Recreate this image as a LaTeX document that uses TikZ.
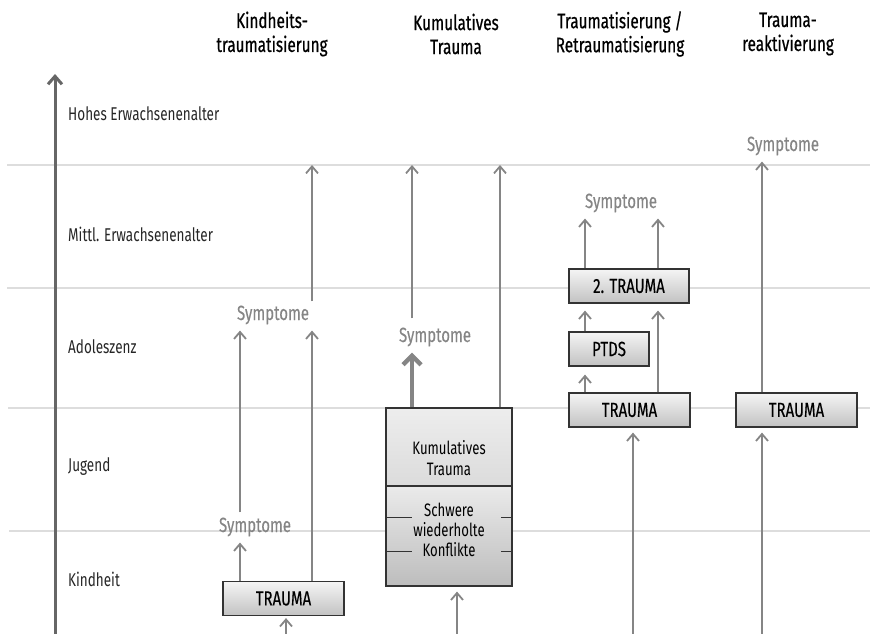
\documentclass[tikz,border=0pt]{standalone}
\usepackage{fontspec}
\setmainfont{Fira Sans}[FakeStretch=0.73]
\newfontfamily\headfont{Fira Sans}[FakeStretch=0.73, FakeBold=0.6]
\newfontfamily\boxfont{Fira Sans}[FakeStretch=0.73, FakeBold=0.35]
\usetikzlibrary{arrows.meta}
\definecolor{gridgray}{HTML}{DDDDDD}
\definecolor{arrgray}{HTML}{858585}
\definecolor{axisgray}{HTML}{666666}

\begin{document}
\begin{tikzpicture}[x=1pt, y=-1pt]
        \tikzstyle{every node}=[font=\fontsize{18.5}{23}\selectfont, text=black!85]
        \tikzstyle{head}=[align=center, text=black, font=\headfont\fontsize{21}{24}\selectfont]
        \tikzstyle{age}=[anchor=west, inner sep=2pt]
        \tikzstyle{box}=[draw=black!80, line width=1.2pt, top color=black!4, bottom color=black!24, minimum height=34pt, inner sep=0pt, text=black, font=\boxfont\fontsize{20.5}{24}\selectfont]
        \tikzstyle{sym}=[text=arrgray, inner xsep=2pt, inner ysep=1pt, font=\boxfont\fontsize{20.5}{24}\selectfont]
        \tikzstyle{grid}=[draw=gridgray, line width=2pt]
        \tikzstyle{arr}=[draw=arrgray, line width=1.8pt, -{Straight Barb[length=7pt, width=12pt]}]
        \tikzstyle{gap}=[shorten >=5pt]

        \useasboundingbox (0,0) rectangle (870,634);

        % Altersstufen
        \coordinate (g1) at (7,165);
        \coordinate (g2) at (7,288);
        \coordinate (g3) at (8,408);
        \coordinate (g4) at (9,531);
        \foreach \g in {g1,g2,g3,g4}
            \draw[grid] (\g) -- (\g -| 870,0);

        \coordinate (a0) at (55,634);
        \coordinate (a1) at (55,74);
        \draw[draw=axisgray, line width=3pt, -{Straight Barb[length=8pt, width=14pt]}] (a0) -- (a1);

        \node[age] (hea) at (66,114) {Hohes Erwachsenenalter};
        \node[age] (mea) at (66,234) {Mittl. Erwachsenenalter};
        \node[age] (ado) at (66,347) {Adoleszenz};
        \node[age] (jug) at (66,467) {Jugend};
        \node[age] (kin) at (66,579) {Kindheit};

        % Spaltenkoepfe
        \node[head] (h1) at (272,34) {Kindheits-\\traumatisierung};
        \node[head] (h2) at (456,34) {Kumulatives\\Trauma};
        \node[head] (h3) at (620,34) {Traumatisierung /\\Retraumatisierung};
        \node[head] (h4) at (788,34) {Trauma-\\reaktivierung};

        % Kaesten
        \node[box, minimum width=121pt] (t1)   at (283.5,598.5) {TRAUMA};
        \node[box, minimum width=126pt, minimum height=78pt, top color=black!7, bottom color=black!14]  (kum) at (449,447) {};
        \node[box, minimum width=126pt, minimum height=100pt, top color=black!8, bottom color=black!26] (kon) at (449,536) {};
        \node[align=center, font=\fontsize{18}{21}\selectfont, text=black] (kumtxt) at (449,458) {Kumulatives\\Trauma};
        \node[align=center, font=\fontsize{18}{20}\selectfont, text=black] (kontxt) at (449,530) {Schwere\\wiederholte\\Konflikte};
        \node[box, minimum width=121pt] (t3)   at (629.5,410) {TRAUMA};
        \node[box, minimum width=80pt]  (ptds) at (609,349) {PTDS};
        \node[box, minimum width=120pt] (t3b)  at (629,286) {2. TRAUMA};
        \node[box, minimum width=121pt] (t4)   at (796.5,410) {TRAUMA};

        \foreach \d in {32,66} {
            \draw[draw=black!80, line width=1.2pt] ([yshift=-\d pt]kon.north west) -- ++(27,0);
            \draw[draw=black!80, line width=1.2pt] ([yshift=-\d pt]kon.north east) -- ++(-12,0);
        }

        % Symptome
        \node[sym] (s1a) at (255,527) {Symptome};
        \node[sym] (s1b) at (273,315) {Symptome};
        \node[sym] (s2)  at (435,337) {Symptome};
        \node[sym] (s3)  at (621,203) {Symptome};
        \node[sym] (s4)  at (783,146) {Symptome};

        % Pfeile
        \coordinate (b1) at (286,634);
        \coordinate (b2) at (457,634);
        \coordinate (b3) at (633,634);
        \coordinate (b4) at (762,634);
        \coordinate (c1a) at (240,0);
        \coordinate (c1b) at (312,0);
        \coordinate (c2a) at (412,0);
        \coordinate (c2b) at (500,0);
        \coordinate (c3a) at (585,0);
        \coordinate (c3b) at (658,0);

        \draw[arr, shorten >=2pt] (b1) -- (t1.south -| b1);
        \draw[arr, gap] (t1.north -| c1a) -- (s1a.south -| c1a);
        \draw[arr, gap, shorten <=4pt] (s1a.north -| c1a) -- (s1b.south -| c1a);
        \draw[arr, gap] (t1.north -| c1b) -- (s1b.south -| c1b);
        \draw[arr, shorten <=3pt] (s1b.north -| c1b) -- (g1 -| c1b);

        \draw[arr, gap] (b2) -- (kon.south -| b2);
        \draw[arr, gap, line width=4.5pt, -{Straight Barb[length=9pt, width=18pt]}] (kum.north -| c2a) -- (s2.south -| c2a);
        \draw[arr, shorten <=8pt] (s2.north -| c2a) -- (g1 -| c2a);
        \draw[arr] (kum.north -| c2b) -- (g1 -| c2b);

        \draw[arr, gap] (b3) -- (t3.south -| b3);
        \draw[arr, shorten >=8pt] (t3.north -| c3a) -- (ptds.south -| c3a);
        \draw[arr, shorten >=7pt] (ptds.north -| c3a) -- (t3b.south -| c3a);
        \draw[arr, shorten >=7pt] (t3.north -| c3b) -- (t3b.south -| c3b);
        \draw[arr, gap] (t3b.north -| c3a) -- (s3.south -| c3a);
        \draw[arr, gap] (t3b.north -| c3b) -- (s3.south -| c3b);

        \draw[arr, gap] (b4) -- (t4.south -| b4);
        \draw[arr, gap] (t4.north -| b4) -- (s4.south -| b4);
\end{tikzpicture}
\end{document}
